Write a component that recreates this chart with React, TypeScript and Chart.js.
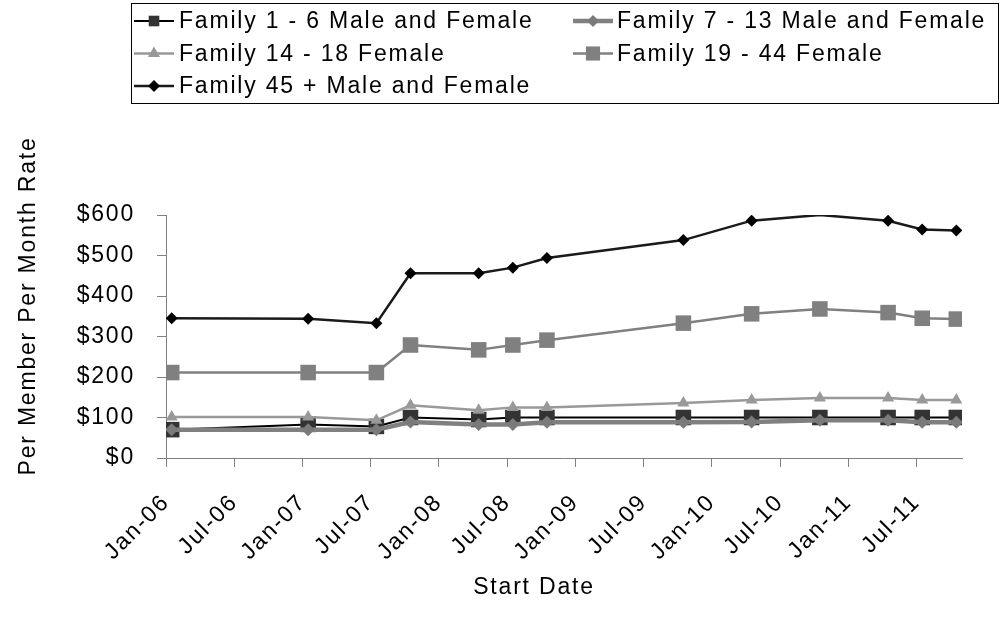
import React, { useEffect, useRef } from "react";
import { Chart, registerables } from "chart.js";

Chart.register(...registerables);

// Plan start dates (year-month) and per-member-per-month rates for each family tier
const startDates = [
  "2006-01", "2007-01", "2007-07", "2007-10", "2008-04", "2008-07", "2008-10",
  "2009-10", "2010-04", "2010-10", "2011-04", "2011-07", "2011-10",
];
const family1to6 = [70, 83, 78, 100, 95, 100, 100, 100, 100, 100, 100, 100, 100];
const family7to13 = [70, 70, 70, 89, 83, 83, 88, 88, 89, 93, 93, 88, 88];
const family14to18 = [101, 101, 93, 130, 118, 125, 125, 136, 143, 148, 148, 143, 143];
const family19to44 = [211, 211, 211, 279, 267, 279, 291, 333, 356, 368, 359, 345, 343];
const family45plus = [345, 344, 333, 456, 456, 470, 494, 538, 586, 600, 586, 564, 562];

const seriesNames = [
  "Family 1 - 6 Male and Female",
  "Family 7 - 13 Male and Female",
  "Family 14 - 18 Female",
  "Family 19 - 44 Female",
  "Family 45 + Male and Female",
];

// Date axis labels, one every six months starting Jan 2006
const xTickLabels = [
  "Jan-06", "Jul-06", "Jan-07", "Jul-07", "Jan-08", "Jul-08",
  "Jan-09", "Jul-09", "Jan-10", "Jul-10", "Jan-11", "Jul-11",
];
const yTickValues = [0, 100, 200, 300, 400, 500, 600];

const xTitle = "Start Date";
const yTitle = "Per Member Per Month Rate";

const FONT_FAMILY = "'Liberation Sans', Arial, Helvetica, sans-serif";
const FONT_SIZE = 23;
const LETTER_SPACING = "1.8px";
const AXIS_GREY = "#808080";

// months since Jan 2006; each point sits in the middle of its month
const monthIndex = (ym: string) => {
  const [y, m] = ym.split("-").map(Number);
  return (y - 2006) * 12 + (m - 1);
};
const pointX = startDates.map((d) => monthIndex(d) + 0.5);
const axisMaxMonth = monthIndex("2011-11");

type SeriesStyle = {
  line: string;
  lineWidth: number;
  marker: "rect" | "rectRot" | "triangle";
  fill: string;
  radius: number;
  legendRadius: number;
};

const seriesStyles: SeriesStyle[] = [
  { line: "#000000", lineWidth: 2, marker: "rect", fill: "#333333", radius: 11, legendRadius: 7.5 },
  { line: "#808080", lineWidth: 4.5, marker: "rectRot", fill: "#7a7a7a", radius: 6.5, legendRadius: 6 },
  { line: "#999999", lineWidth: 2.5, marker: "triangle", fill: "#999999", radius: 7, legendRadius: 7 },
  { line: "#808080", lineWidth: 2.5, marker: "rect", fill: "#808080", radius: 11, legendRadius: 10 },
  { line: "#1a1a1a", lineWidth: 2.5, marker: "rectRot", fill: "#000000", radius: 6, legendRadius: 6 },
];

const seriesValues = [family1to6, family7to13, family14to18, family19to44, family45plus];

// the 45+ series carries no marker at its Oct-2010 vertex
const unmarked45 = startDates.indexOf("2010-10");

function pathMarker(ctx: CanvasRenderingContext2D, kind: string, x: number, y: number, r: number) {
  ctx.beginPath();
  if (kind === "rect") {
    const h = Math.SQRT1_2 * r;
    ctx.rect(x - h, y - h, 2 * h, 2 * h);
  } else if (kind === "rectRot") {
    ctx.moveTo(x - r, y);
    ctx.lineTo(x, y - r);
    ctx.lineTo(x + r, y);
    ctx.lineTo(x, y + r);
    ctx.closePath();
  } else {
    const a = (2 * Math.PI) / 3;
    ctx.moveTo(x, y - r);
    ctx.lineTo(x + Math.sin(a) * r, y - Math.cos(a) * r);
    ctx.lineTo(x + Math.sin(2 * a) * r, y - Math.cos(2 * a) * r);
    ctx.closePath();
  }
}

const decorPlugin = {
  id: "decor",
  beforeDraw(chart: any) {
    (chart.ctx as any).letterSpacing = LETTER_SPACING;
  },
  afterDraw(chart: any) {
    const ctx: CanvasRenderingContext2D = chart.ctx;
    ctx.save();
    (ctx as any).letterSpacing = LETTER_SPACING;
    ctx.font = `${FONT_SIZE}px ${FONT_FAMILY}`;
    ctx.fillStyle = "#000";

    // axis titles
    ctx.textAlign = "center";
    ctx.textBaseline = "middle";
    ctx.fillText(xTitle, 534, 588);
    ctx.save();
    ctx.translate(29, 306);
    ctx.rotate(-Math.PI / 2);
    ctx.fillText(yTitle, 0, 0);
    ctx.restore();

    // legend box
    ctx.strokeStyle = "#000";
    ctx.lineWidth = 1;
    ctx.strokeRect(131.5, 3.5, 867, 100);

    const cols = [{ lineFrom: 134, lineTo: 174, text: 179 }, { lineFrom: 573, lineTo: 613, text: 617 }];
    const rows = [21, 53.5, 86];
    seriesNames.forEach((name, i) => {
      const col = cols[i % 2];
      const y = rows[Math.floor(i / 2)];
      const st = seriesStyles[i];
      ctx.strokeStyle = st.line;
      ctx.lineWidth = st.lineWidth;
      ctx.beginPath();
      ctx.moveTo(col.lineFrom, y);
      ctx.lineTo(col.lineTo, y);
      ctx.stroke();
      pathMarker(ctx, st.marker, (col.lineFrom + col.lineTo) / 2, y, st.legendRadius);
      ctx.fillStyle = st.fill;
      ctx.fill();
      ctx.fillStyle = "#000";
      ctx.textAlign = "left";
      ctx.textBaseline = "middle";
      ctx.fillText(name, col.text, y + 1);
    });
    ctx.restore();
  },
};

export default function App() {
  const canvasRef = useRef<HTMLCanvasElement | null>(null);

  useEffect(() => {
    document.body.style.margin = "0";
    const canvas = canvasRef.current;
    if (!canvas) return;

    const datasets = seriesNames.map((name, i) => {
      const st = seriesStyles[i];
      return {
        label: name,
        data: seriesValues[i].map((v, j) => ({ x: pointX[j], y: v })),
        borderColor: st.line,
        borderWidth: st.lineWidth,
        backgroundColor: st.fill,
        pointStyle: st.marker,
        pointBackgroundColor: st.fill,
        pointBorderColor: st.fill,
        pointBorderWidth: 0,
        pointRadius:
          i === 4
            ? (c: any) => (c.dataIndex === unmarked45 ? 0 : st.radius)
            : st.radius,
        tension: 0,
        fill: false,
        // first series at the bottom, last series on top
        order: seriesNames.length - i,
      };
    });

    const tickFont = { family: FONT_FAMILY, size: FONT_SIZE };

    const chart = new Chart(canvas, {
      type: "line",
      data: { datasets },
      options: {
        responsive: false,
        animation: false,
        events: [],
        layout: { padding: { top: 215, right: 43, left: 0, bottom: 0 } },
        plugins: {
          legend: { display: false },
          tooltip: { enabled: false },
          title: { display: false },
        },
        scales: {
          x: {
            type: "linear",
            min: 0,
            max: axisMaxMonth,
            afterFit: (s: any) => {
              s.height = 170;
            },
            afterBuildTicks: (s: any) => {
              s.ticks = xTickLabels.map((_, k) => ({ value: k * 6 }));
            },
            grid: {
              display: true,
              drawOnChartArea: false,
              drawTicks: true,
              tickLength: 9,
              color: AXIS_GREY,
              lineWidth: 1,
            },
            border: { display: true, color: AXIS_GREY, width: 1 },
            ticks: {
              autoSkip: false,
              minRotation: 45,
              maxRotation: 45,
              padding: 22,
              color: "#000",
              font: tickFont,
              callback: (v: any) => xTickLabels[Math.round(Number(v) / 6)] ?? "",
            },
          },
          y: {
            type: "linear",
            min: 0,
            max: 600,
            afterFit: (s: any) => {
              s.width = 166;
            },
            afterBuildTicks: (s: any) => {
              s.ticks = yTickValues.map((v) => ({ value: v }));
            },
            grid: {
              display: true,
              drawOnChartArea: false,
              drawTicks: true,
              tickLength: 9,
              color: AXIS_GREY,
              lineWidth: 1,
            },
            border: { display: true, color: AXIS_GREY, width: 1 },
            ticks: {
              padding: 22,
              color: "#000",
              font: tickFont,
              callback: (v: any) => "$" + v,
            },
          },
        },
      },
      plugins: [decorPlugin],
    });

    return () => {
      chart.destroy();
    };
  }, []);

  return (
    <div style={{ position: "fixed", left: 0, top: 0, width: 1005, height: 628, background: "#fff" }}>
      <canvas ref={canvasRef} width={1005} height={628} style={{ display: "block" }} />
    </div>
  );
}
